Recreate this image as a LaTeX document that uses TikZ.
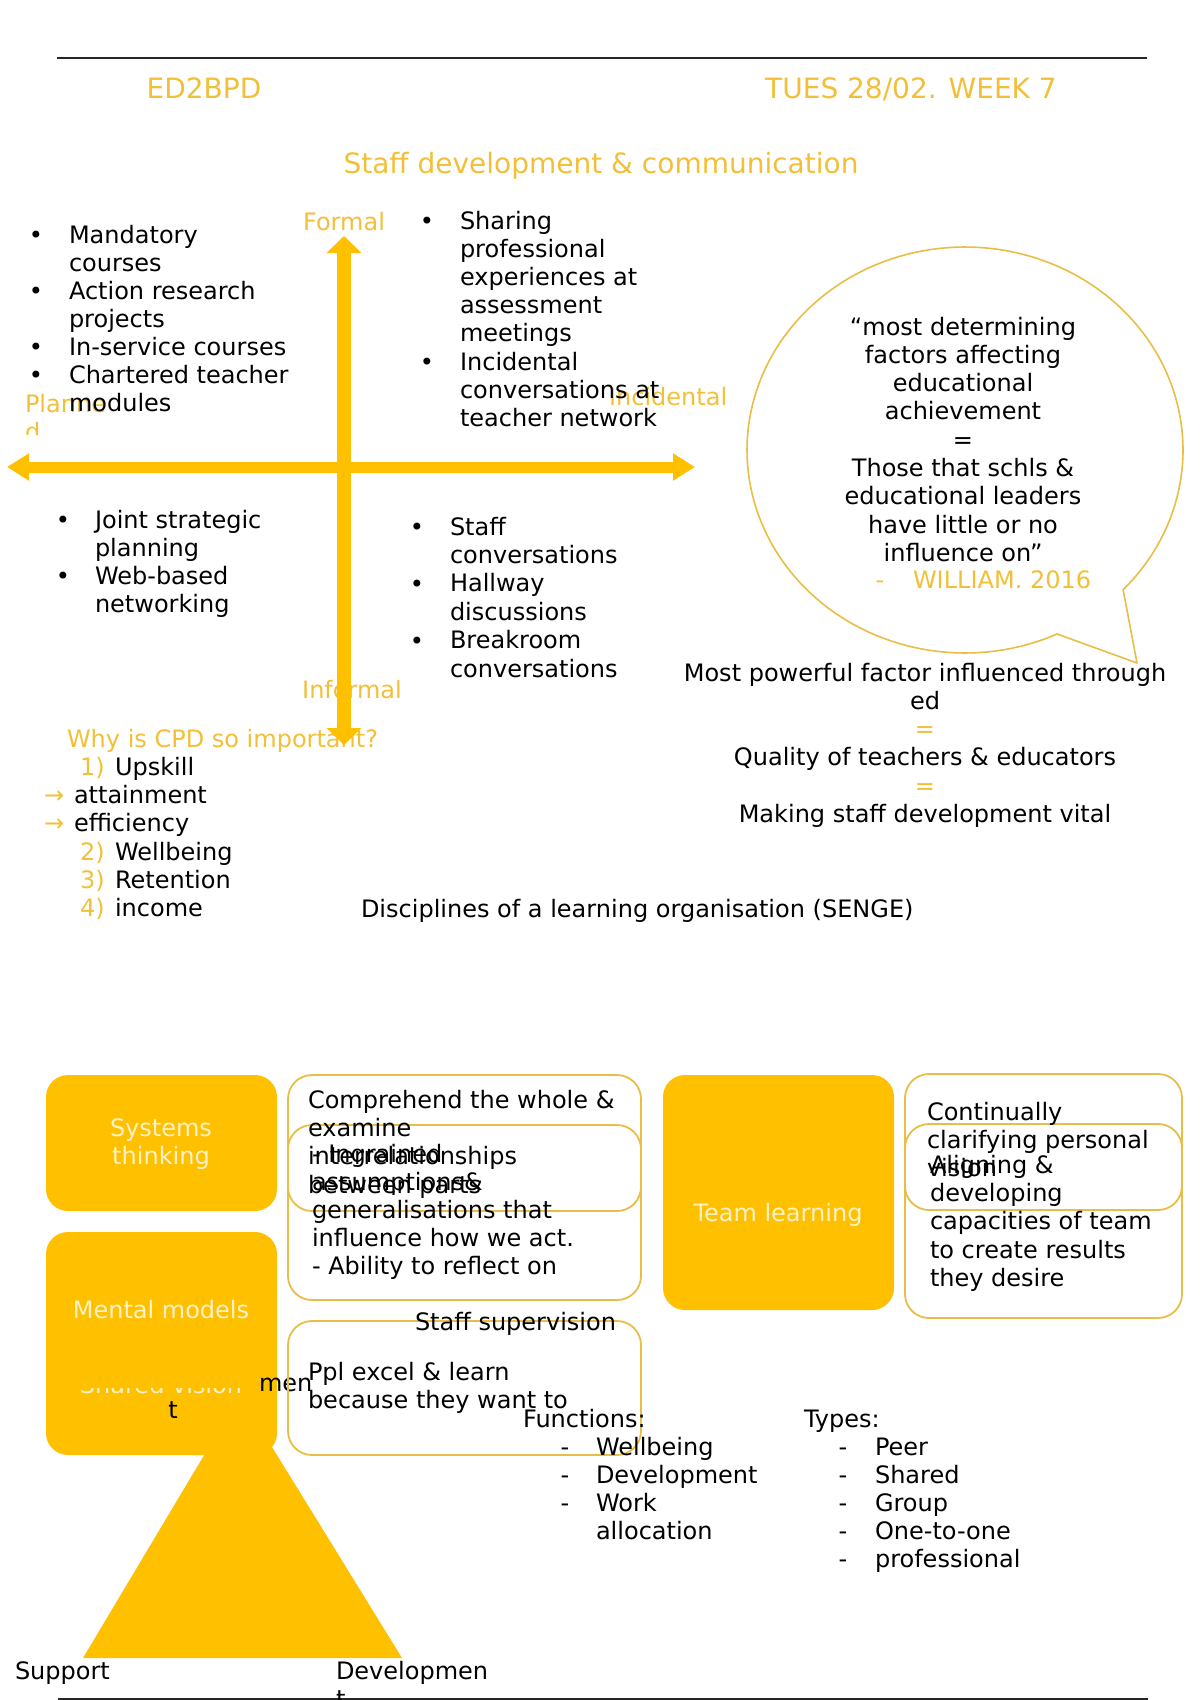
\documentclass[tikz,border=0pt]{standalone}
\usepackage{fontspec}
\setmainfont{DejaVu Sans}
\usetikzlibrary{arrows.meta}
\definecolor{gold}{HTML}{FFC000}
\definecolor{tgold}{RGB}{242,192,56}
\definecolor{cream}{RGB}{255,242,200}
\definecolor{lgold}{RGB}{232,190,70}
\tikzset{
  txt/.style={inner sep=0pt, outer sep=0pt, font=\fontsize{24}{28}\selectfont, anchor=base west},
  ctxt/.style={txt, anchor=base},
  head/.style={txt, anchor=base, text=tgold, font=\fontsize{28}{33}\selectfont},
  goldbox/.style={fill=gold, rounded corners=22pt},
  outbox/.style={draw=lgold, line width=1.8pt, rounded corners=24pt},
  rule/.style={draw=black!85, line width=2pt},
}
\newcommand\txtlines[6][]{%
  \foreach \tx [count=\ii from 0] in {#6} {\node[txt,#1] (#2\ii) at (#3,{#4+#5*\ii}) {\tx};}}
\newcommand\bullets[4]{%
  \foreach \yy [count=\ii] in {#4} {\node[ctxt] (#1\ii) at (#2,\yy) {#3};}}
\begin{document}
\begin{tikzpicture}[x=1pt,y=-1pt]
\useasboundingbox (0,0) rectangle (1200,1700);
\fill[white] (0,0) rectangle (1200,1700);

% rules
\coordinate (r1a) at (57,58); \coordinate (r1b) at (1147,58);
\coordinate (r2a) at (58,1699); \coordinate (r2b) at (1148,1699);
\draw[rule] (r1a) -- (r1b);
\draw[rule] (r2a) -- (r2b);

% headers
\node[head] (code) at (204,98) {ED2BPD};
\node[head] (date) at (911,98) {TUES 28/02. WEEK 7};
\node[head] (title) at (601,173) {Staff development \& communication};

% quadrant labels
\node[ctxt,text=tgold] (formal) at (344,230) {Formal};
\node[txt,text=tgold] (incid) at (609,405) {Incidental};
\node[ctxt,text=tgold] (informal) at (352,698) {Informal};
\begin{scope}
\clip (0,380) rectangle (200,434);
\node[txt,text=tgold] (plan1) at (25,412) {Planne};
\node[txt,text=tgold] (plan2) at (25,440) {d};
\end{scope}

% lists in quadrants
\txtlines{tl}{69}{243}{28}{Mandatory,courses,Action research,projects,In-service courses,Chartered teacher,modules}
\bullets{tlb}{36}{•}{243,299,355,383}
\txtlines{tr}{460}{229}{28.2}{Sharing,professional,experiences at,assessment,meetings,Incidental,conversations at,teacher network}
\bullets{trb}{427}{•}{229,370}
\txtlines{bl}{95}{528}{28}{Joint strategic,planning,Web-based,networking}
\bullets{blb}{63}{•}{528,584}
\txtlines{br}{450}{535}{28.4}{Staff,conversations,Hallway,discussions,Breakroom,conversations}
\bullets{brb}{417}{•}{535,592,649}

% why CPD
\node[txt,text=tgold] (why) at (67,747) {Why is CPD so important?};
\node[txt,text=tgold] (n1) at (80,775) {1)};
\node[txt] (up) at (115,775) {Upskill};
\node[txt,text=tgold] (a1) at (44,803) {→};
\node[txt] (att) at (74,803) {attainment};
\node[txt,text=tgold] (a2) at (44,831) {→};
\node[txt] (eff) at (74,831) {efficiency};
\node[txt,text=tgold] (n2) at (80,860) {2)};
\node[txt] (well) at (115,860) {Wellbeing};
\node[txt,text=tgold] (n3) at (80,888) {3)};
\node[txt] (ret) at (115,888) {Retention};
\node[txt,text=tgold] (n4) at (80,916) {4)};
\node[txt] (inc) at (115,916) {income};

% arrows
\coordinate (hl) at (7,467); \coordinate (hr) at (695,467);
\coordinate (vt) at (344,236); \coordinate (vb) at (344,745);
\draw[gold, line width=11pt, {Triangle[width=26pt,length=22pt]}-{Triangle[width=26pt,length=22pt]}] (hl) -- (hr);
\draw[gold, line width=14pt, {Triangle[width=34pt,length=17pt]}-{Triangle[width=34pt,length=17pt]}] (vb) -- (vt);

% speech bubble
\coordinate (btip) at (1137,663);
\draw[lgold, line width=1.6pt, line join=round] plot[domain=65:403.5, samples=160] ({965+218*cos(\x)},{450+203*sin(\x)}) -- (btip) -- cycle;
\foreach \tx [count=\ii from 0] in {“most determining,factors affecting,educational,achievement,=,Those that schls \&,educational leaders,have little or no,influence on”}
  {\node[ctxt] (bq\ii) at (963,{335+28.3*\ii}) {\tx};}
\node[ctxt,text=tgold] (wdash) at (880,588) {-};
\node[txt,text=tgold] (will) at (913,588) {WILLIAM. 2016};

% below bubble
\node[ctxt] (mp1) at (925,681) {Most powerful factor influenced through};
\node[ctxt] (mp2) at (925,709) {ed};
\node[ctxt,text=tgold] (eq1) at (925,737) {=};
\node[ctxt] (qual) at (925,765) {Quality of teachers \& educators};
\node[ctxt,text=tgold] (eq2) at (925,794) {=};
\node[ctxt] (mak) at (925,822) {Making staff development vital};

\node[txt] (disc) at (361,917) {Disciplines of a learning organisation (SENGE)};

% bottom section: gold shapes
\fill[gold] (240,1395) -- (402,1658) -- (83,1658) -- cycle;
\fill[goldbox] (46,1075) rectangle (277,1211);
\fill[goldbox] (46,1232) rectangle (277,1455);
\fill[goldbox] (663,1075) rectangle (894,1310);

\node[ctxt,text=cream] (sys1) at (161,1136) {Systems};
\node[ctxt,text=cream] (sys2) at (161,1164) {thinking};
\node[ctxt,text=cream] (ment) at (161,1318) {Mental models};
\node[ctxt,text=cream] (team) at (778,1221) {Team learning};
\begin{scope}
\clip (46,1388) rectangle (277,1410);
\node[ctxt,text=cream] (shv) at (161,1393) {Shared vision};
\end{scope}
\node[txt] (men) at (259,1391) {men};
\node[ctxt] (tt) at (173,1418) {t};

% outline boxes
\draw[outbox] (288,1075) rectangle (641,1300);
\draw[outbox] (288,1125) rectangle (641,1211);
\draw[outbox] (288,1321) rectangle (641,1455);
\draw[outbox] (905,1074) rectangle (1182,1318);
\draw[outbox] (905,1124) rectangle (1182,1210);

\txtlines{cw}{308}{1108}{28.4}{Comprehend the whole \&,examine,interrelationships,between parts}
\txtlines{ig}{312}{1162}{28}{- Ingrained,assumptions\&,generalisations that,influence how we act.,- Ability to reflect on}
\node[txt] (sup) at (415,1330) {Staff supervision};
\txtlines{pp}{308}{1380}{28}{Ppl excel \& learn,because they want to}
\txtlines{cc}{927}{1120}{28}{Continually,clarifying personal,vision}
\txtlines{al}{930}{1173}{28.4}{Aligning \&,developing,capacities of team,to create results,they desire}

% functions / types
\node[txt] (fun) at (523,1427) {Functions:};
\txtlines{fi}{596}{1455}{28}{Wellbeing,Development,Work,allocation}
\bullets{fd}{565}{-}{1455,1483,1511}
\node[txt] (typ) at (804,1427) {Types:};
\txtlines{ti}{875}{1455}{28}{Peer,Shared,Group,One-to-one,professional}
\bullets{td}{843}{-}{1455,1483,1511,1539,1567}

\node[txt] (supp) at (15,1679) {Support};
\node[txt] (dev1) at (336,1679) {Developmen};
\node[txt] (dev2) at (336,1707) {t};
\end{tikzpicture}
\end{document}
